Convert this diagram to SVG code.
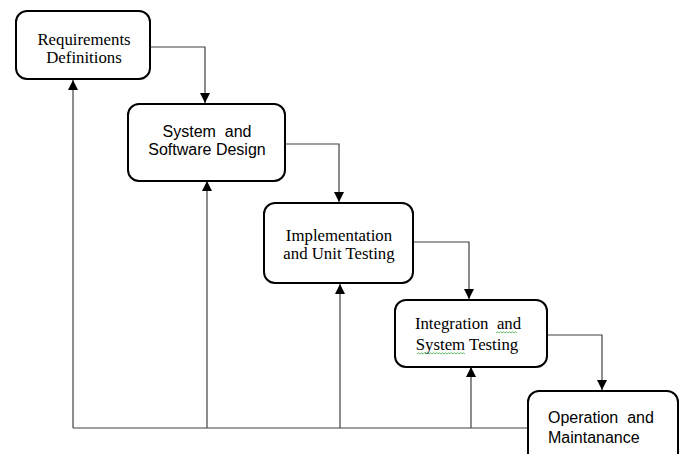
<svg xmlns="http://www.w3.org/2000/svg" width="683" height="454" viewBox="0 0 683 454">
  <defs>
    <marker id="arrow" viewBox="0 0 10 10" refX="10" refY="5" markerWidth="11" markerHeight="10" markerUnits="userSpaceOnUse" orient="auto">
      <path d="M0,0 L10,5 L0,10 z" fill="#000"/>
    </marker>
    <style>
      .box { fill: #fff; stroke: #000; stroke-width: 2; }
      .serif { font-family: "Liberation Serif", "Times New Roman", serif; font-size: 16.8px; fill: #000; }
      .sans { font-family: "Liberation Sans", Arial, sans-serif; font-size: 16px; fill: #000; }
      .link { fill: none; stroke: #404040; stroke-width: 1.2; }
      .squiggle { fill: none; stroke: #3cb043; stroke-width: 0.8; }
    </style>
  </defs>

  <!-- connectors -->
  <g id="connectors">
    <!-- downward flow between phases -->
    <path class="link" d="M150,47 H205 V103" marker-end="url(#arrow)"/>
    <path class="link" d="M285,144 H339 V202" marker-end="url(#arrow)"/>
    <path class="link" d="M413,242 H469 V299" marker-end="url(#arrow)"/>
    <path class="link" d="M547,335 H602 V390" marker-end="url(#arrow)"/>
    <!-- feedback bus along the bottom -->
    <path class="link" d="M528,428 H73"/>
    <path class="link" d="M73,428 V80" marker-end="url(#arrow)"/>
    <path class="link" d="M207,428 V181" marker-end="url(#arrow)"/>
    <path class="link" d="M340,428 V284" marker-end="url(#arrow)"/>
    <path class="link" d="M471,428 V367" marker-end="url(#arrow)"/>
  </g>

  <g id="requirements">
    <rect class="box" x="16" y="11" width="134" height="68" rx="11"/>
    <text class="serif" x="84" y="45" text-anchor="middle">Requirements</text>
    <text class="serif" x="84" y="63" text-anchor="middle">Definitions</text>
  </g>

  <g id="design">
    <rect class="box" x="128" y="104" width="157" height="77" rx="11"/>
    <text class="sans" x="207" y="137" text-anchor="middle" xml:space="preserve">System  and</text>
    <text class="sans" x="207" y="155" text-anchor="middle">Software Design</text>
  </g>

  <g id="implementation">
    <rect class="box" x="264" y="203" width="149" height="80" rx="11"/>
    <text class="serif" x="339" y="241" text-anchor="middle">Implementation</text>
    <text class="serif" x="339" y="259" text-anchor="middle">and Unit Testing</text>
  </g>

  <g id="integration">
    <rect class="box" x="395" y="300" width="152" height="67" rx="11"/>
    <text class="serif" x="468" y="329" text-anchor="middle" xml:space="preserve">Integration  and</text>
    <text class="serif" x="467" y="350" text-anchor="middle">System Testing</text>
    <path class="squiggle" d="M496,333 l1.5,-1.2 l1.5,1.2 l1.5,-1.2 l1.5,1.2 l1.5,-1.2 l1.5,1.2 l1.5,-1.2 l1.5,1.2 l1.5,-1.2 l1.5,1.2 l1.5,-1.2 l1.5,1.2 l1.5,-1.2 l1.5,1.2"/>
    <path class="squiggle" d="M417,354 l1.5,-1.2 l1.5,1.2 l1.5,-1.2 l1.5,1.2 l1.5,-1.2 l1.5,1.2 l1.5,-1.2 l1.5,1.2 l1.5,-1.2 l1.5,1.2 l1.5,-1.2 l1.5,1.2 l1.5,-1.2 l1.5,1.2 l1.5,-1.2 l1.5,1.2 l1.5,-1.2 l1.5,1.2 l1.5,-1.2 l1.5,1.2 l1.5,-1.2 l1.5,1.2 l1.5,-1.2 l1.5,1.2 l1.5,-1.2 l1.5,1.2 l1.5,-1.2 l1.5,1.2 l1.5,-1.2 l1.5,1.2 l1.5,-1.2 l1.5,1.2"/>
  </g>

  <g id="operation">
    <rect class="box" x="528" y="391" width="150" height="80" rx="11"/>
    <text class="sans" x="548" y="423" xml:space="preserve">Operation  and</text>
    <text class="sans" x="548" y="443">Maintanance</text>
  </g>
</svg>
